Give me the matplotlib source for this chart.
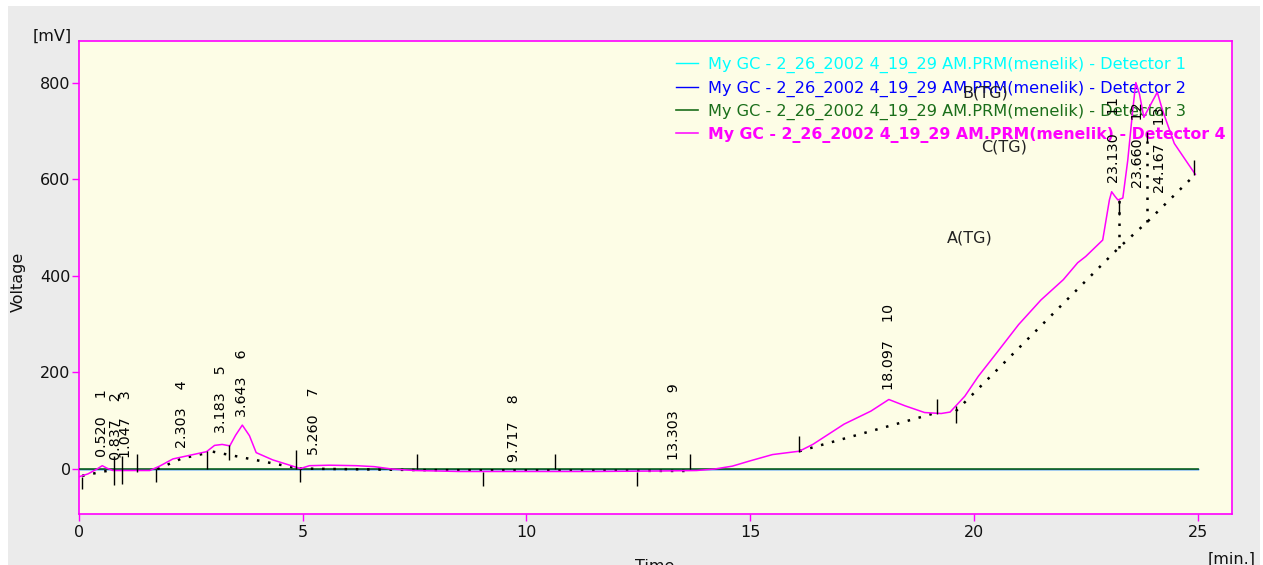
import matplotlib
matplotlib.use("Agg")
import matplotlib.pyplot as plt
from matplotlib.patches import Rectangle

plt.rcParams['font.family'] = ['DejaVu Sans']

# ---------------- data ----------------
# Detector 4 signal (mV) vs time (min)
time_d4 = [0.00, 0.20, 0.40, 0.52, 0.62, 0.76, 1.00, 1.30, 1.58, 1.80, 2.10, 2.40,
           2.85, 3.03, 3.20, 3.37, 3.50, 3.65, 3.81, 3.96, 4.33, 4.78, 4.95, 5.15,
           5.60, 6.20, 6.60, 7.00, 7.50, 8.50, 10.0, 11.5, 13.0, 13.8, 14.2, 14.6,
           15.0, 15.5, 16.1, 16.4, 17.1, 17.7, 18.1, 18.46, 18.9, 19.27, 19.47, 19.8,
           20.1, 20.54, 21.0, 21.5, 22.0, 22.32, 22.5, 22.88, 23.03, 23.08, 23.15,
           23.22, 23.33, 23.44, 23.55, 23.62, 23.70, 23.80, 23.92, 24.10, 24.22,
           24.48, 24.78, 24.95]
signal_d4 = [-16, -10, 0, 7, 2, -3, -3, -3, -3, 6, 21, 27,
             36, 49, 51, 48, 70, 91, 69, 34, 19, 6, 1, 7,
             8, 7, 5, 0, -3, -5, -5, -5, -4, -3, 0, 6,
             17, 30, 37, 51, 93, 120, 144, 131, 117, 115, 118, 151,
             192, 244, 299, 350, 392, 427, 440, 474, 557, 574, 565,
             557, 561, 639, 742, 800, 777, 728, 749, 780, 742,
             674, 633, 610]

# Detectors 1-3 (flat at zero)
time_flat = [0.0, 25.0]
signal_flat = [0.0, 0.0]

# Integration baselines (dotted)
base1_t = [0.07, 0.55, 0.78]
base1_v = [-14, -5, -2]
base2_t = [1.75, 2.30, 2.85]
base2_v = [0, 22, 33]
base3_t = [2.99, 4.93]
base3_v = [36, 1]
base4_t = [4.93, 7.56, 13.65]
base4_v = [1, -2, -4]
base5_t = [16.1, 19.18]
base5_v = [37, 117]
base6_t = [19.6, 23.24, 23.88, 24.93]
base6_v = [120, 458, 512, 608]
drop1_t = [23.24, 23.24]
drop1_v = [458, 557]
drop2_t = [23.88, 23.88]
drop2_v = [512, 680]

# Peak start/end markers: time, low, high (mV)
mark_t = [0.07, 0.78, 0.95, 1.30, 1.73, 2.85, 3.35, 4.84, 4.93, 7.56, 9.03,
          10.64, 12.47, 13.65, 16.1, 19.18, 19.6, 23.24, 23.88, 24.93]
mark_lo = [-41, -34, -31, -6, -27, 0, 19, 0, -27, 0, -35,
           0, -35, 0, 35, 115, 95, 526, 676, 608]
mark_hi = [-16, 27, 27, 31, 0, 38, 49, 40, 0, 31, -6,
           31, -6, 31, 68, 146, 130, 557, 697, 639]

# Peak labels
peak_rt = [0.520, 0.837, 1.047, 2.303, 3.183, 3.643, 5.260, 9.717, 13.303,
           18.097, 23.130, 23.660, 24.167]
peak_num = [1, 2, 3, 4, 5, 6, 7, 8, 9, 10, 11, 12, 13]
label_y = [26, 19, 23, 44, 75, 108, 29, 15, 19, 164, 592, 582, 571]

# Group annotations
group_text = ["B(TG)", "C(TG)", "A(TG)"]
group_t = [20.25, 20.67, 19.91]
group_v = [779, 667, 478]

legend_labels = [
    "My GC - 2_26_2002 4_19_29 AM.PRM(menelik) - Detector 1",
    "My GC - 2_26_2002 4_19_29 AM.PRM(menelik) - Detector 2",
    "My GC - 2_26_2002 4_19_29 AM.PRM(menelik) - Detector 3",
    "My GC - 2_26_2002 4_19_29 AM.PRM(menelik) - Detector 4",
]
x_ticks = [0, 5, 10, 15, 20, 25]
y_ticks = [0, 200, 400, 600, 800]

# ---------------- styling ----------------
W, H = 1263, 565
fig = plt.figure(figsize=(W / 100, H / 100), dpi=100, facecolor='white')
fig.patches.append(Rectangle((8 / W, 0), (1260 - 8) / W, (H - 6) / H,
                             transform=fig.transFigure, facecolor='#ebebeb',
                             edgecolor='none', zorder=-10))

ax = fig.add_axes([79 / W, (H - 514) / H, (1232 - 79) / W, (514 - 41) / H])
ax.set_facecolor('#fdfde6')
MAG = '#ff00ff'
for s in ax.spines.values():
    s.set_color(MAG)
    s.set_linewidth(1.2)

ax.set_xlim(0, 25.77)
ax.set_ylim(-93, 886)
ax.set_xticks(x_ticks)
ax.set_yticks(y_ticks)
ax.tick_params(axis='both', colors=MAG, labelcolor='#111111', length=5,
               width=1.0, labelsize=11.5)
ax.tick_params(axis='x', pad=3)
ax.tick_params(axis='y', pad=1)

l1, = ax.plot(time_flat, signal_flat, color='#00ffff', lw=1.0, zorder=2)
l2, = ax.plot(time_flat, signal_flat, color='#0000ff', lw=1.0, zorder=2)
l3, = ax.plot(time_flat, signal_flat, color='#1a6e1a', lw=1.2, zorder=3)
l4, = ax.plot(time_d4, signal_d4, color=MAG, lw=1.1, zorder=5)

dot = dict(color='black', lw=1.8, linestyle=(0, (1, 3.5)), zorder=4)
for bt, bv in [(base1_t, base1_v), (base2_t, base2_v), (base3_t, base3_v),
               (base4_t, base4_v), (base5_t, base5_v), (base6_t, base6_v),
               (drop1_t, drop1_v), (drop2_t, drop2_v)]:
    ax.plot(bt, bv, **dot)

ax.vlines(mark_t, mark_lo, mark_hi, colors='black', lw=1.0, zorder=6)

for rt, n, ly in zip(peak_rt, peak_num, label_y):
    ax.text(rt, ly, f"{rt:.3f}    {n}", rotation=90, ha='center', va='bottom',
            fontsize=10.3, color='black', zorder=6)

for t, x, y in zip(group_text, group_t, group_v):
    ax.text(x, y, t, ha='center', va='center', fontsize=11.5, color='#222222',
            zorder=6)

leg = ax.legend([l1, l2, l3, l4], legend_labels, loc='upper left',
                bbox_to_anchor=((676 - 79) / (1232 - 79), (514 - 57) / (514 - 41)),
                frameon=False, fontsize=11.65, handlelength=1.35,
                handletextpad=0.6, labelspacing=0.44, borderpad=0,
                borderaxespad=0, labelcolor='linecolor')
leg.get_texts()[3].set_fontweight('bold')
leg.get_texts()[3].set_fontsize(11.3)
leg.set_zorder(1)

fig.text(52 / W, 1 - 36 / H, "[mV]", ha='center', va='center', fontsize=11.5,
         color='#111111')
fig.text(18 / W, 1 - 282 / H, "Voltage", ha='center', va='center', rotation=90,
         fontsize=11.5, color='#111111')
fig.text(1232 / W, 1 - 559 / H, "[min.]", ha='center', va='center',
         fontsize=11.5, color='#111111')
fig.text(655 / W, 1 - 559 / H, "Time", ha='center', va='top', fontsize=11.5,
         color='#111111')

fig.savefig("out.png", dpi=100, facecolor=fig.get_facecolor())
